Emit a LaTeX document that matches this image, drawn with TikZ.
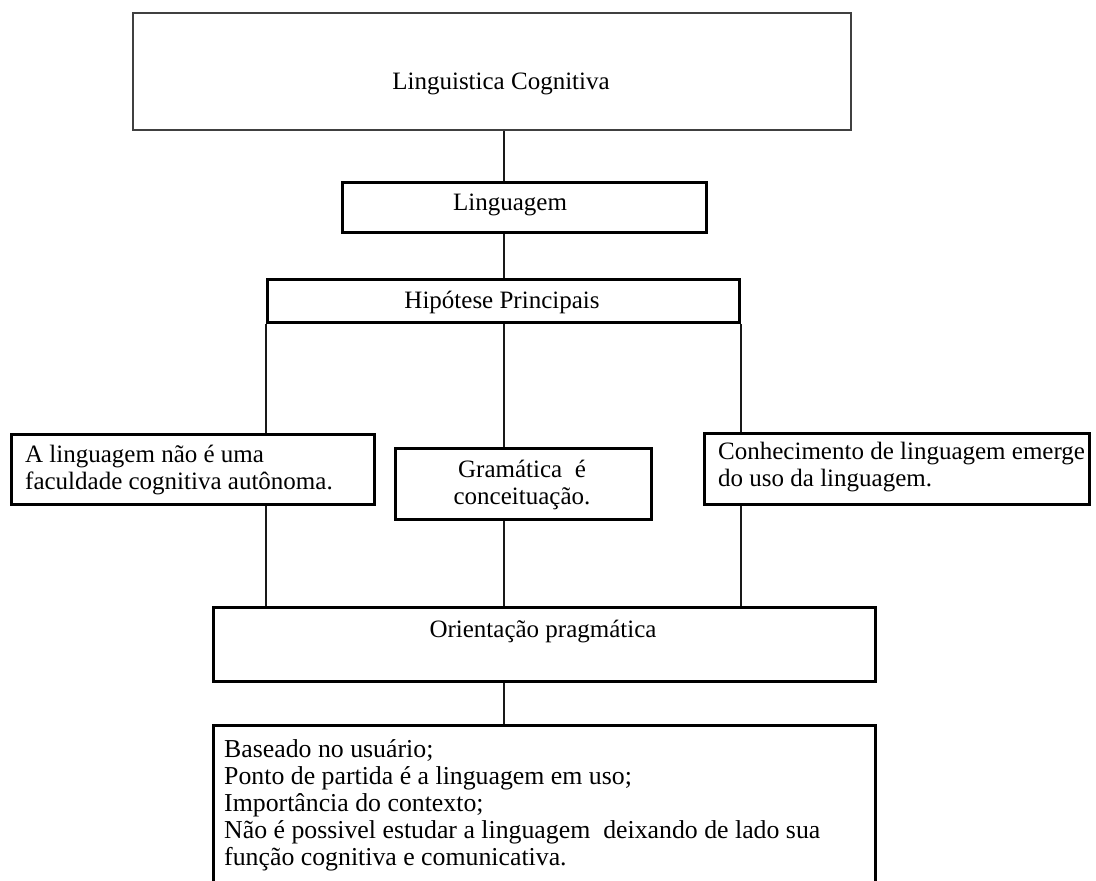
\documentclass[tikz,border=0pt]{standalone}
\usepackage{fontspec}
\setmainfont{Liberation Serif}
\begin{document}
\begin{tikzpicture}[x=1pt,y=-1pt,
  box/.style={draw=black, line width=3pt, inner sep=0pt, anchor=north west},
  topbox/.style={draw=black!75, line width=2.2pt, inner sep=0pt, anchor=north west},
  conn/.style={draw=black!90, line width=2pt},
  txt/.style={font=\fontsize{25}{27}\selectfont, inner sep=0pt, text=black},
  bigtxt/.style={font=\fontsize{25.8}{27}\selectfont, inner sep=0pt, text=black}]
\useasboundingbox (0,0) rectangle (1096,881);
% boxes
\node[topbox, minimum width=718pt, minimum height=117pt] (top) at (132,12) {};
\node[box, minimum width=364pt, minimum height=50pt] (ling) at (341,181) {};
\node[box, minimum width=472pt, minimum height=43pt] (hyp) at (266,278) {};
\node[box, minimum width=363pt, minimum height=70pt] (left) at (10,433) {};
\node[box, minimum width=256pt, minimum height=71pt] (mid) at (394,447) {};
\node[box, minimum width=385pt, minimum height=71pt] (right) at (703,432) {};
\node[box, minimum width=662pt, minimum height=74pt] (ori) at (212,606) {};
\node[box, minimum width=662pt, minimum height=200pt] (bot) at (212,724) {};
% texts
\node[txt] (ttop) at (501,84) {Linguistica Cognitiva};
\node[txt] (tling) at (510,205) {Linguagem};
\node[txt] (thyp) at (502,302) {Hipótese Principais};
\node[txt, align=left, anchor=west] (tleft) at (25,470) {A linguagem não é uma\\faculdade cognitiva autônoma.};
\node[txt, align=center] (tmid) at (522,485) {Gramática\enspace é\\conceituação.};
\node[txt, align=left, anchor=west] (tright) at (718,467) {Conhecimento de linguagem emerge\\do uso da linguagem.};
\node[txt] (tori) at (543,632) {Orientação pragmática};
\node[bigtxt, align=left, anchor=north west] (tbot) at (224,739) {Baseado no usuário;\\Ponto de partida é a linguagem em uso;\\Importância do contexto;\\Não é possivel estudar a linguagem\enspace deixando de lado sua\\função cognitiva e comunicativa.};
% connectors
\draw[conn] (top.south -| hyp.north) -- (ling.north -| hyp.north);
\draw[conn] (ling.south -| hyp.north) -- (hyp.north);
\draw[conn] (hyp.south west) -- (left.north -| hyp.south west);
\draw[conn] (hyp.south) -- (mid.north -| hyp.south);
\draw[conn] (hyp.south east) -- (right.north -| hyp.south east);
\draw[conn] (left.south -| hyp.south west) -- (ori.north -| hyp.south west);
\draw[conn] (mid.south -| hyp.south) -- (ori.north -| hyp.south);
\draw[conn] (right.south -| hyp.south east) -- (ori.north -| hyp.south east);
\draw[conn] (ori.south -| hyp.south) -- (bot.north -| hyp.south);
\end{tikzpicture}
\end{document}
